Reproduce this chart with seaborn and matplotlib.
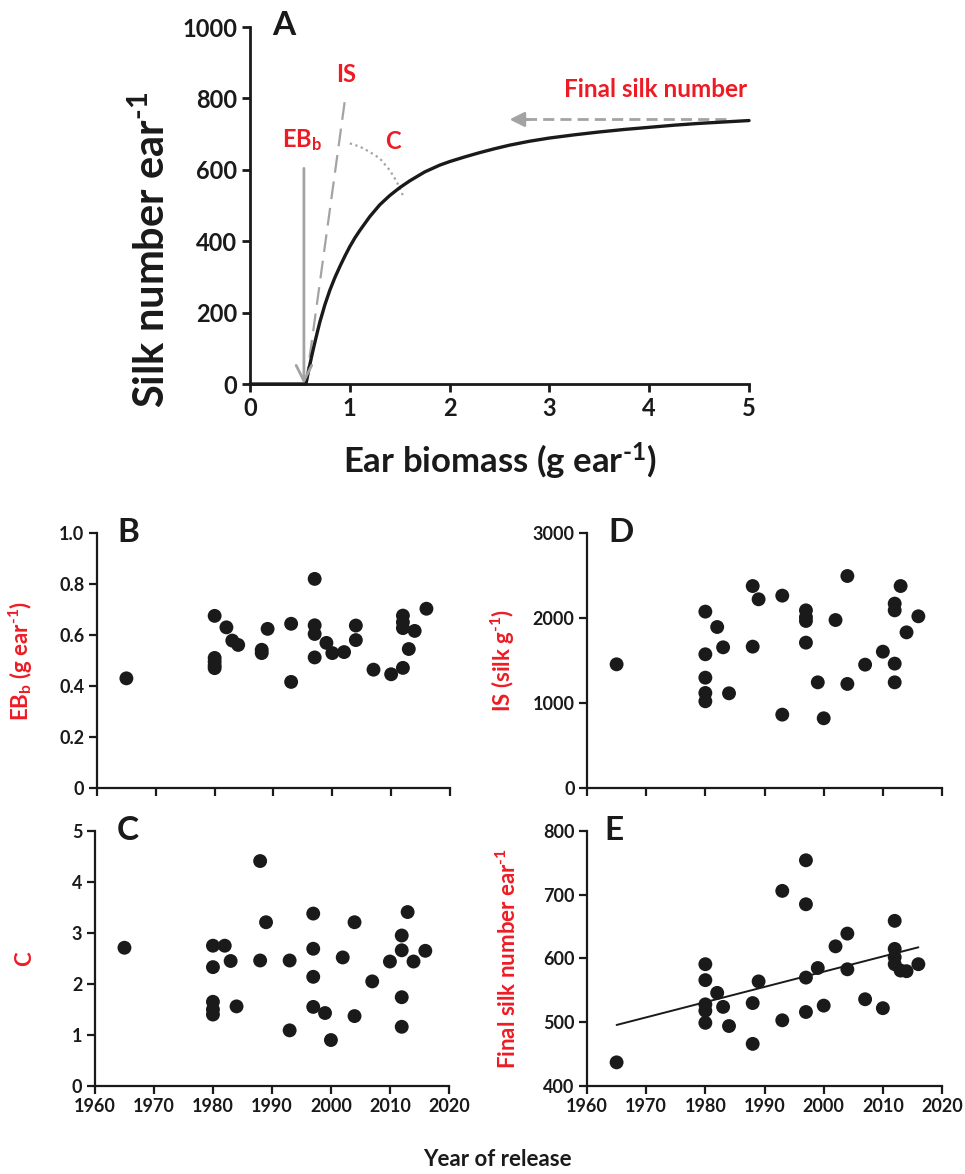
import matplotlib
matplotlib.use("Agg")
import matplotlib.pyplot as plt
import seaborn as sns

# ---- Panel A: silk number as a function of ear biomass ----
curve_biomass = [0.0, 0.56, 0.58, 0.60, 0.625, 0.65, 0.675, 0.70, 0.75, 0.80, 0.85,
                 0.90, 0.95, 1.00, 1.05, 1.10, 1.20, 1.30, 1.40, 1.50, 1.60, 1.75,
                 1.90, 2.00, 2.15, 2.30, 2.45, 2.60, 2.80, 3.00, 3.25, 3.50, 3.75,
                 4.00, 4.25, 4.50, 4.75, 5.00]
curve_silks = [0, 0, 28, 55, 87, 117, 146, 174, 222, 263, 298,
               329, 358, 385, 409, 430, 469, 502, 528, 550, 569, 594,
               613, 623, 636, 648, 659, 669, 680, 689, 698, 706, 713,
               719, 725, 730, 734, 738]

ebb_arrow_x = [0.54, 0.54]
ebb_arrow_y = [604, 0]
is_line_x = [0.56, 0.96]
is_line_y = [0, 814]
c_arc_x = [1.00, 1.10, 1.20, 1.30, 1.40, 1.47, 1.53]
c_arc_y = [674, 665, 650, 632, 599, 567, 529]
fsn_arrow_x = [4.77, 2.60]
fsn_arrow_y = [741, 741]

# ---- Panels B-E: hybrids by year of release ----
release_year = [1965,
                1980, 1980, 1980, 1980, 1980,
                1982, 1983, 1984,
                1988, 1988, 1989,
                1993, 1993,
                1997, 1997, 1997, 1997,
                1999, 2000, 2002,
                2004, 2004,
                2007, 2010,
                2012, 2012, 2012, 2012,
                2013, 2014, 2016]

ebb_values = [0.43,
              0.675, 0.51, 0.495, 0.48, 0.47,
              0.63, 0.578, 0.561,
              0.542, 0.529, 0.624,
              0.644, 0.416,
              0.82, 0.638, 0.604, 0.512,
              0.569, 0.529, 0.533,
              0.637, 0.58,
              0.464, 0.446,
              0.676, 0.65, 0.627, 0.471,
              0.545, 0.616, 0.703]

is_values = [1455,
             2075, 1573, 1298, 1118, 1020,
             1894, 1655, 1114,
             2376, 1663, 2220,
             2263, 863,
             2090, 2010, 1965, 1710,
             1243, 820, 1976,
             2494, 1224,
             1451, 1604,
             2169, 2090, 1463, 1243,
             2376, 1831, 2020]

c_values = [2.71,
            2.75, 2.33, 1.65, 1.50, 1.40,
            2.75, 2.45, 1.56,
            4.41, 2.46, 3.21,
            2.46, 1.09,
            3.38, 2.69, 2.14, 1.55,
            1.43, 0.90, 2.52,
            3.21, 1.37,
            2.05, 2.44,
            2.95, 2.66, 1.74, 1.16,
            3.41, 2.44, 2.65]

fsn_values = [437,
              591, 566, 528, 518, 499,
              546, 524, 494,
              530, 466, 564,
              706, 503,
              754, 685, 570, 516,
              585, 526, 619,
              639, 583,
              536, 522,
              659, 615, 602, 591,
              581, 580, 591]

year_ticks = [1960, 1970, 1980, 1990, 2000, 2010, 2020]
ebb_ticks = [0, 0.2, 0.4, 0.6, 0.8, 1.0]
ebb_labels = ["0", "0.2", "0.4", "0.6", "0.8", "1.0"]
is_ticks = [0, 1000, 2000, 3000]
c_ticks = [0, 1, 2, 3, 4, 5]
fsn_ticks = [400, 500, 600, 700, 800]
a_xticks = [0, 1, 2, 3, 4, 5]
a_yticks = [0, 200, 400, 600, 800, 1000]

sns.set_theme(style="ticks")
plt.rcParams["font.family"] = ["Lato", "DejaVu Sans"]
plt.rcParams["font.weight"] = "bold"
plt.rcParams["mathtext.fontset"] = "custom"
plt.rcParams["mathtext.rm"] = "Lato:bold"
plt.rcParams["mathtext.it"] = "Lato:bold"
plt.rcParams["mathtext.bf"] = "Lato:bold"
plt.rcParams["mathtext.default"] = "rm"

RED = "#ed1c24"
INK = "#1a1a1a"
GREY = "#a3a3a3"
SUP = "$^{\\text{-1}}$"

fig = plt.figure(figsize=(9.65, 11.74), dpi=100)


def style_axes(ax, labelsize, lw=1.6):
    sns.despine(ax=ax)
    for side in ("left", "bottom"):
        ax.spines[side].set_linewidth(lw)
        ax.spines[side].set_color(INK)
    ax.tick_params(direction="out", length=6, width=lw, colors=INK,
                   labelsize=labelsize, pad=3)
    for lab in ax.get_xticklabels() + ax.get_yticklabels():
        lab.set_fontweight("bold")


# ---------------- Panel A ----------------
axA = fig.add_axes([0.2591, 0.6729, 0.5171, 0.3041])
sns.lineplot(x=curve_biomass, y=curve_silks, ax=axA, color=INK, lw=2.4,
             clip_on=False, zorder=4)
axA.plot(is_line_x, is_line_y, color=GREY, lw=1.6, dashes=(8, 4), zorder=3)
axA.plot(c_arc_x, c_arc_y, color=GREY, lw=1.6, ls=(0, (1, 1.6)), zorder=3)
axA.annotate("", xy=(ebb_arrow_x[1], ebb_arrow_y[1]),
             xytext=(ebb_arrow_x[0], ebb_arrow_y[0]),
             arrowprops=dict(arrowstyle="->", color=GREY, lw=2.0,
                             mutation_scale=28, shrinkA=0, shrinkB=0),
             zorder=5)
axA.plot([fsn_arrow_x[0], fsn_arrow_x[1] + 0.12], fsn_arrow_y,
         color=GREY, lw=2.0, dashes=(4, 2.2), zorder=3)
axA.annotate("", xy=(fsn_arrow_x[1], fsn_arrow_y[1]),
             xytext=(fsn_arrow_x[1] + 0.2, fsn_arrow_y[1]),
             arrowprops=dict(arrowstyle="-|>", color=GREY, lw=2.0,
                             mutation_scale=22, shrinkA=0, shrinkB=0),
             zorder=5)

axA.text(0.96, 868, "IS", color=RED, fontsize=17, fontweight="bold",
         ha="center", va="center")
axA.text(0.52, 683, "EB$_\\mathregular{b}$", color=RED, fontsize=17,
         fontweight="bold", ha="center", va="center")
axA.text(1.43, 679, "C", color=RED, fontsize=17, fontweight="bold",
         ha="center", va="center")
axA.text(4.98, 826, "Final silk number", color=RED, fontsize=17.5,
         fontweight="bold", ha="right", va="center")
axA.text(0.068, 1.005, "A", transform=axA.transAxes, fontsize=24,
         fontweight="bold", color=INK, ha="center", va="center")

axA.set_xlim(0, 5)
axA.set_ylim(0, 1000)
axA.set_xticks(a_xticks)
axA.set_yticks(a_yticks)
axA.set_xlabel("Ear biomass (g ear" + SUP + ")", fontsize=25,
               fontweight="bold", color=INK)
axA.set_ylabel("Silk number ear" + SUP, fontsize=30, fontweight="bold",
               color=INK)
axA.xaxis.set_label_coords(0.5, -0.16)
axA.yaxis.set_label_coords(-0.156, 0.375)
style_axes(axA, 17, lw=2.0)


# ---------------- Panels B-E ----------------
def scatter_panel(rect, values, letter, letter_x, ylabel, label_x,
                  yticks, ylim, ylabels=None, show_x=False, trend=False):
    ax = fig.add_axes(rect)
    sns.scatterplot(x=release_year, y=values, ax=ax, s=100, color=INK,
                    edgecolor="none", linewidth=0, clip_on=False, zorder=4)
    if trend:
        sns.regplot(x=release_year, y=values, ax=ax, scatter=False, ci=None,
                    truncate=True, line_kws=dict(color=INK, lw=1.4, zorder=3))
    ax.set_xlim(1960, 2020)
    ax.set_ylim(*ylim)
    ax.set_xticks(year_ticks)
    if show_x:
        ax.set_xticklabels([str(y) for y in year_ticks])
    else:
        ax.set_xticklabels([])
    if ylabels is None:
        ax.set_yticks(yticks)
    else:
        ax.set_yticks(yticks, ylabels)
    ax.set_xlabel("")
    ax.set_ylabel(ylabel, color=RED, fontsize=16, fontweight="bold")
    ax.yaxis.set_label_coords(label_x, 0.5)
    ax.text(letter_x, 1.0, letter, transform=ax.transAxes, fontsize=24,
            fontweight="bold", color=INK, ha="center", va="center")
    style_axes(ax, 13)
    return ax


scatter_panel([0.1005, 0.3288, 0.3658, 0.2172], ebb_values, "B", 0.088,
              "EB$_\\mathregular{b}$ (g ear" + SUP + ")", -0.176, ebb_ticks,
              (0, 1.0), ylabels=ebb_labels)
scatter_panel([0.6083, 0.3288, 0.3679, 0.2172], is_values, "D", 0.096,
              "IS (silk g" + SUP + ")", -0.197, is_ticks, (0, 3000))
scatter_panel([0.0984, 0.0750, 0.3668, 0.2172], c_values, "C", 0.093,
              "C", -0.17, c_ticks, (0, 5), show_x=True)
scatter_panel([0.6083, 0.0750, 0.3679, 0.2172], fsn_values, "E", 0.076,
              "Final silk number ear" + SUP, -0.189, fsn_ticks, (400, 800),
              show_x=True, trend=True)

fig.text(0.515, 0.012, "Year of release", fontsize=16, fontweight="bold",
         color=INK, ha="center", va="center")

fig.savefig("out.png", dpi=100, facecolor="white")
